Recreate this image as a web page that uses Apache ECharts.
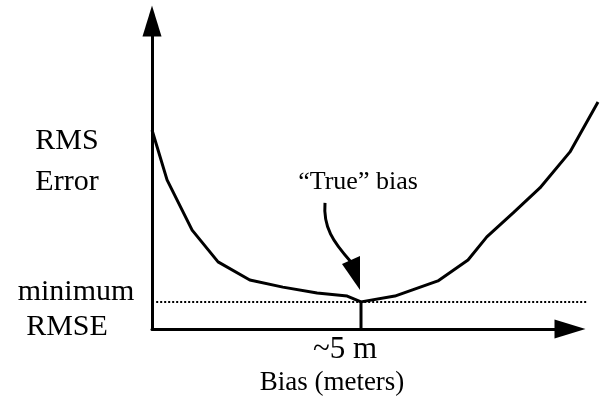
<!DOCTYPE html>
<html><head><meta charset="utf-8">
<script src="https://cdn.jsdelivr.net/npm/echarts@6/dist/echarts.min.js"></script>
<style>html,body{margin:0;padding:0;background:#fff}#c{width:602px;height:412px}</style>
</head><body><div id="c"></div>
<script>
// Schematic RMS error vs. bias curve
const biasX = [0, 0.36, 0.96, 1.58, 2.34, 3.13, 3.95, 4.67, 5.0, 5.81, 6.84, 7.56, 8.01, 8.64, 9.28, 10.0, 10.67];
const rmsY  = [6.46, 4.84, 3.21, 2.18, 1.59, 1.36, 1.17, 1.07, 0.88, 1.07, 1.56, 2.24, 2.99, 3.77, 4.58, 5.75, 7.37];
const trueBias = 5;
const minRmse = 0.88;
const minLineX = [0.1, 10.4];
const xTickLabel = '~5 m';
const xAxisTitle = 'Bias (meters)';
const yAxisTitle = ['RMS', 'Error'];
const minLabel = ['minimum', 'RMSE'];
const annotation = '\u201CTrue\u201D bias';

const FONT = '"Liberation Serif", "Times New Roman", serif';
const chart = echarts.init(document.getElementById('c'), null, {renderer: 'canvas'});

const curve = biasX.map((x, i) => [x, rmsY[i]]);
const axisLineCommon = {
  show: true,
  symbol: ['none', 'triangle'],
  symbolSize: [19, 31],
  lineStyle: {color: '#000', width: 3}
};
const hiddenAxis = {
  axisLine: {show: false}, axisTick: {show: false},
  splitLine: {show: false}, axisLabel: {show: false}
};
// axes grid (with arrows) and a data grid with the same scale that may extend past the arrow
const AX_W = 418, DATA_W = 450, X_MAX = 10;

chart.setOption({
  animation: false,
  backgroundColor: '#fff',
  grid: [
    {left: 152, width: AX_W, top: 21, bottom: 83},
    {left: 152, width: DATA_W, top: 21, bottom: 83}
  ],
  xAxis: [
    {gridIndex: 0, type: 'value', min: 0, max: X_MAX, interval: 5,
     axisLine: axisLineCommon, axisTick: {show: false}, splitLine: {show: false}, axisLabel: {show: false}},
    Object.assign({gridIndex: 1, type: 'value', min: 0, max: X_MAX * DATA_W / AX_W}, hiddenAxis)
  ],
  yAxis: [
    {gridIndex: 0, type: 'value', min: 0, max: 10,
     axisLine: axisLineCommon, axisTick: {show: false}, splitLine: {show: false}, axisLabel: {show: false}},
    Object.assign({gridIndex: 1, type: 'value', min: 0, max: 10}, hiddenAxis)
  ],
  series: [
    {
      type: 'line', xAxisIndex: 1, yAxisIndex: 1, data: curve, symbol: 'none', clip: false,
      lineStyle: {color: '#000', width: 3}, z: 3
    },
    {
      type: 'line', xAxisIndex: 1, yAxisIndex: 1, data: minLineX.map(x => [x, minRmse]), symbol: 'none', clip: false,
      lineStyle: {color: '#000', width: 2, type: [2, 2]}, z: 2
    },
    {
      type: 'line', xAxisIndex: 1, yAxisIndex: 1, data: [[trueBias, 0], [trueBias, minRmse]], symbol: 'none', clip: false,
      lineStyle: {color: '#000', width: 3}, z: 3
    }
  ]
});

const P = chart.convertToPixel({gridIndex: 1}, [trueBias, minRmse]);
const O = chart.convertToPixel({gridIndex: 1}, [0, 0]);
const txt = (text, x, y, size) => ({
  type: 'text', x: x, y: y,
  style: {text: text, fill: '#000', fontFamily: FONT, fontSize: size, align: 'center', verticalAlign: 'middle'}
});

chart.setOption({
  graphic: [
    txt(yAxisTitle[0], O[0] - 85, 141, 30),
    txt(yAxisTitle[1], O[0] - 85, 182, 30),
    txt(minLabel[0], O[0] - 76, 292, 30),
    txt(minLabel[1], O[0] - 85, 327, 30),
    txt(xTickLabel, P[0] - 16, O[1] + 21, 31),
    txt(xAxisTitle, P[0] - 29, O[1] + 54, 27),
    txt(annotation, P[0] - 3, P[1] - 120, 26),
    {
      type: 'bezierCurve',
      shape: {x1: P[0] - 36, y1: P[1] - 99, cpx1: P[0] - 38, cpy1: P[1] - 75,
              cpx2: P[0] - 28, cpy2: P[1] - 60, x2: P[0] - 10, y2: P[1] - 40},
      style: {stroke: '#000', lineWidth: 3, fill: null}
    },
    {
      type: 'polygon',
      shape: {points: [[P[0] - 19, P[1] - 38], [P[0] - 1, P[1] - 46], [P[0] - 1, P[1] - 12]]},
      style: {fill: '#000'}
    }
  ]
});
</script>
</body></html>
